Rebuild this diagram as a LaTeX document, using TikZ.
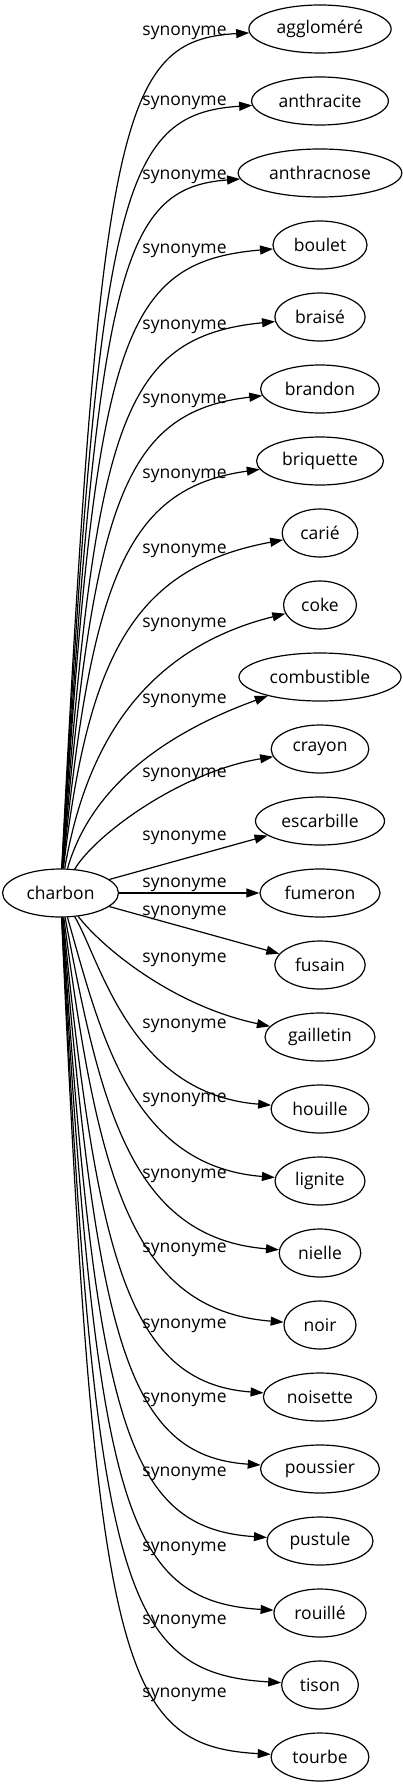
\documentclass[tikz,border=0pt]{standalone}
\usepackage{fontspec}
\setmainfont{Open Sans}
\usetikzlibrary{shapes.geometric, arrows.meta}
\tikzstyle{word} = [ellipse, draw, line width=1.2pt, minimum width=72pt, minimum height=48pt, inner xsep=7pt, inner ysep=2pt, text centered, font=\fontsize{17.5pt}{20pt}\selectfont]
\tikzstyle{rel} = [inner sep=0pt, anchor=base, font=\fontsize{17.5pt}{20pt}\selectfont]
\tikzstyle{arrow} = [line width=1.2pt, -{Triangle[length=13pt,width=9pt]}]

\begin{document}
\begin{tikzpicture}[x=1pt, y=-1pt]
            \useasboundingbox (0,0) rectangle (403,1787);
            \node [word] at (60.5,893) (charbon) {charbon};
            \node [word] at (320,29) (agglomere) {aggloméré};
            \node [word] at (320,101) (anthracite) {anthracite};
            \node [word] at (320,173) (anthracnose) {anthracnose};
            \node [word] at (320,245) (boulet) {boulet};
            \node [word] at (320,317) (braise) {braisé};
            \node [word] at (320,389) (brandon) {brandon};
            \node [word] at (320,461) (briquette) {briquette};
            \node [word] at (320,533) (carie) {carié};
            \node [word] at (320,605) (coke) {coke};
            \node [word] at (320,677) (combustible) {combustible};
            \node [word] at (320,749) (crayon) {crayon};
            \node [word] at (320,821) (escarbille) {escarbille};
            \node [word] at (320,893) (fumeron) {fumeron};
            \node [word] at (320,965) (fusain) {fusain};
            \node [word] at (320,1037) (gailletin) {gailletin};
            \node [word] at (320,1109) (houille) {houille};
            \node [word] at (320,1181) (lignite) {lignite};
            \node [word] at (320,1253) (nielle) {nielle};
            \node [word] at (320,1325) (noir) {noir};
            \node [word] at (320,1397) (noisette) {noisette};
            \node [word] at (320,1469) (poussier) {poussier};
            \node [word] at (320,1541) (pustule) {pustule};
            \node [word] at (320,1613) (rouille) {rouillé};
            \node [word] at (320,1685) (tison) {tison};
            \node [word] at (320,1757) (tourbe) {tourbe};
            % labels
            \node [rel] at (184.5,36) (syn1) {synonyme};
            \node [rel] at (184.5,106) (syn2) {synonyme};
            \node [rel] at (184.5,180) (syn3) {synonyme};
            \node [rel] at (184.5,254) (syn4) {synonyme};
            \node [rel] at (184.5,329) (syn5) {synonyme};
            \node [rel] at (184.5,403) (syn6) {synonyme};
            \node [rel] at (184.5,478) (syn7) {synonyme};
            \node [rel] at (184.5,553) (syn8) {synonyme};
            \node [rel] at (184.5,627) (syn9) {synonyme};
            \node [rel] at (184.5,703) (syn10) {synonyme};
            \node [rel] at (184.5,777) (syn11) {synonyme};
            \node [rel] at (184.5,840) (syn12) {synonyme};
            \node [rel] at (184.5,887) (syn13) {synonyme};
            \node [rel] at (184.5,915) (syn14) {synonyme};
            \node [rel] at (184.5,962) (syn15) {synonyme};
            \node [rel] at (184.5,1028) (syn16) {synonyme};
            \node [rel] at (184.5,1102) (syn17) {synonyme};
            \node [rel] at (184.5,1178) (syn18) {synonyme};
            \node [rel] at (184.5,1252) (syn19) {synonyme};
            \node [rel] at (184.5,1328) (syn20) {synonyme};
            \node [rel] at (184.5,1402) (syn21) {synonyme};
            \node [rel] at (184.5,1476) (syn22) {synonyme};
            \node [rel] at (184.5,1551) (syn23) {synonyme};
            \node [rel] at (184.5,1624) (syn24) {synonyme};
            \node [rel] at (184.5,1697) (syn25) {synonyme};
            % edges
            \draw [arrow] (charbon) .. controls (100,120) and (120,40) .. (agglomere);
            \draw [arrow] (charbon) .. controls (99,196) and (120,114) .. (anthracite);
            \draw [arrow] (charbon) .. controls (98,273) and (120,188) .. (anthracnose);
            \draw [arrow] (charbon) .. controls (96,345) and (118,262) .. (boulet);
            \draw [arrow] (charbon) .. controls (95,425) and (120,337) .. (braise);
            \draw [arrow] (charbon) .. controls (93,505) and (122,412) .. (brandon);
            \draw [arrow] (charbon) .. controls (91,580) and (126,488) .. (briquette);
            \draw [arrow] (charbon) .. controls (88,658) and (132,568) .. (carie);
            \draw [arrow] (charbon) .. controls (85,750) and (140,650) .. (coke);
            \draw [arrow] (charbon) .. controls (90,790) and (160,735) .. (combustible);
            \draw [arrow] (charbon) .. controls (95,835) and (180,772) .. (crayon);
            \draw [arrow] (charbon) -- (escarbille);
            \draw [arrow] (charbon) -- (fumeron);
            \draw [arrow] (charbon) -- (fusain);
            \draw [arrow] (charbon) .. controls (100,945) and (170,1005) .. (gailletin);
            \draw [arrow] (charbon) .. controls (100,959) and (130,1094) .. (houille);
            \draw [arrow] (charbon) .. controls (100,1031) and (130,1166) .. (lignite);
            \draw [arrow] (charbon) .. controls (100,1103) and (130,1238) .. (nielle);
            \draw [arrow] (charbon) .. controls (98,1175) and (130,1310) .. (noir);
            \draw [arrow] (charbon) .. controls (97,1257) and (128,1383) .. (noisette);
            \draw [arrow] (charbon) .. controls (97,1339) and (127,1456) .. (poussier);
            \draw [arrow] (charbon) .. controls (96,1421) and (125,1528) .. (pustule);
            \draw [arrow] (charbon) .. controls (96,1503) and (123,1601) .. (rouille);
            \draw [arrow] (charbon) .. controls (95,1585) and (121,1673) .. (tison);
            \draw [arrow] (charbon) .. controls (95,1666) and (120,1746) .. (tourbe);
            \end{tikzpicture}
\end{document}
